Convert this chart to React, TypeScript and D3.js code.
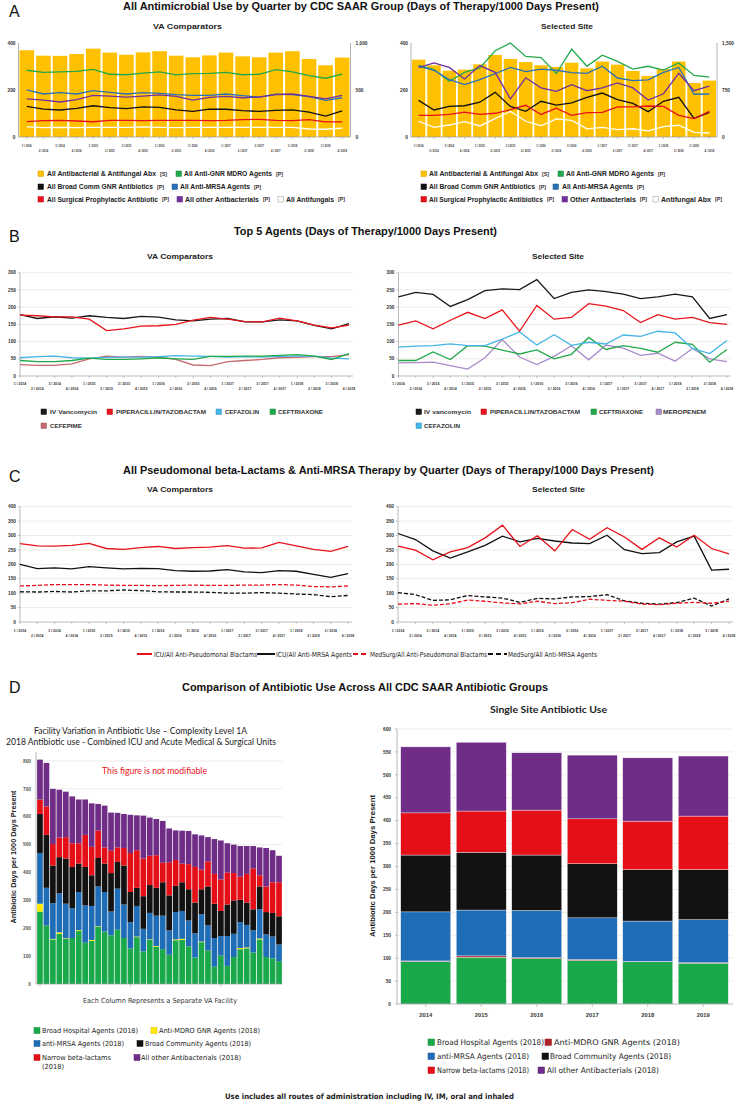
import React from 'react';
import * as d3 from 'd3';

const W = 739;
const H = 1102;

const SANS = "'Liberation Sans', Arial, sans-serif";
const NARROW = "'Liberation Sans Narrow', 'Arial Narrow', 'DejaVu Sans Condensed', sans-serif";
const CAL = "Lato, 'Open Sans', sans-serif";

const quarters = ['1 / 2014', '2 / 2014', '3 / 2014', '4 / 2014', '1 / 2015', '2 / 2015', '3 / 2015', '4 / 2015',
  '1 / 2016', '2 / 2016', '3 / 2016', '4 / 2016', '1 / 2017', '2 / 2017', '3 / 2017', '4 / 2017',
  '1 / 2018', '2 / 2018', '3 / 2018', '4 / 2018'];

// ---- A: all antimicrobial use (bars on secondary axis, lines on primary)
const aVaAbx = [923, 865, 863, 883, 940, 898, 875, 900, 913, 865, 848, 868, 898, 858, 848, 898, 913, 830, 763, 845];
const aVaGnr = [284, 275, 277, 279, 288, 267, 265, 272, 277, 264, 270, 271, 275, 265, 267, 287, 277, 261, 250, 268];
const aVaMrsa = [201, 183, 189, 183, 197, 190, 183, 189, 186, 180, 177, 177, 183, 176, 170, 182, 180, 172, 156, 167];
const aVaOther = [162, 157, 149, 159, 177, 174, 170, 174, 179, 173, 157, 169, 173, 167, 170, 180, 183, 173, 162, 177];
const aVaBroad = [130, 119, 115, 122, 133, 125, 121, 128, 126, 115, 109, 119, 118, 112, 109, 113, 115, 106, 89, 111];
const aVaSurg = [65, 70, 71, 68, 65, 71, 71, 70, 71, 71, 71, 70, 71, 74, 75, 71, 70, 74, 64, 64];
const aVaFungal = [43, 40, 41, 40, 41, 41, 41, 43, 41, 40, 41, 41, 41, 41, 41, 41, 41, 34, 33, 38];

const aSiteAbx = [1234, 1144, 1058, 1076, 1159, 1309, 1245, 1196, 1144, 1118, 1185, 1095, 1204, 1155, 1054, 975, 1084, 1204, 862, 900];
const aSiteGnr = [305, 287, 237, 275, 294, 367, 400, 343, 338, 270, 374, 301, 348, 322, 289, 301, 285, 315, 262, 255];
const aSiteMrsa = [302, 284, 244, 223, 244, 270, 296, 278, 289, 284, 274, 271, 301, 251, 240, 243, 275, 296, 182, 183];
const aSiteOther = [295, 315, 296, 247, 304, 275, 162, 252, 209, 194, 223, 197, 209, 230, 209, 157, 184, 271, 197, 217];
const aSiteBroad = [156, 115, 130, 133, 148, 190, 130, 109, 152, 136, 145, 169, 187, 159, 143, 108, 152, 169, 79, 105];
const aSiteSurg = [92, 92, 96, 106, 96, 101, 116, 135, 96, 123, 92, 104, 105, 128, 128, 132, 130, 92, 78, 109];
const aSiteFungal = [67, 41, 51, 65, 47, 78, 109, 67, 48, 77, 71, 35, 41, 31, 35, 26, 44, 50, 20, 17];

// ---- B: top 5 agents
const bVaVanco = [178, 167, 172, 168, 175, 170, 167, 173, 171, 163, 160, 165, 167, 157, 157, 163, 160, 147, 137, 152];
const bVaPip = [177, 175, 172, 172, 165, 132, 137, 145, 146, 150, 162, 170, 165, 158, 157, 168, 160, 148, 140, 148];
const bVaCefaz = [53, 56, 58, 53, 52, 54, 55, 55, 56, 59, 58, 57, 55, 56, 55, 57, 58, 58, 52, 50];
const bVaCeftri = [45, 42, 42, 45, 52, 48, 48, 50, 53, 50, 48, 57, 57, 58, 58, 60, 62, 58, 48, 65];
const bVaCefep = [33, 31, 31, 35, 50, 58, 55, 57, 55, 48, 32, 30, 42, 45, 48, 53, 54, 56, 56, 62];

const bSiteVanco = [230, 243, 237, 202, 222, 248, 253, 251, 280, 225, 243, 250, 245, 238, 225, 230, 238, 230, 167, 178];
const bSitePip = [148, 160, 137, 162, 185, 167, 192, 130, 205, 165, 170, 210, 203, 190, 155, 178, 165, 170, 155, 150];
const bSiteCeftri = [45, 45, 70, 48, 88, 87, 75, 64, 76, 50, 63, 112, 77, 88, 80, 69, 98, 92, 40, 77];
const bSiteMero = [38, 39, 40, 30, 20, 53, 106, 55, 33, 57, 88, 47, 90, 81, 60, 66, 43, 80, 50, 42];
const bSiteCefaz = [84, 87, 88, 93, 88, 88, 107, 128, 90, 120, 89, 98, 93, 119, 115, 130, 125, 80, 65, 103];

// ---- C: pseudomonal beta-lactams & anti-MRSA
const cVaIcuPseudo = [272, 264, 263, 266, 273, 255, 252, 258, 262, 255, 258, 260, 265, 256, 257, 276, 264, 252, 245, 262];
const cVaIcuMrsa = [200, 185, 188, 184, 192, 188, 184, 186, 185, 178, 176, 177, 182, 174, 171, 178, 176, 165, 155, 168];
const cVaMsPseudo = [125, 127, 130, 130, 130, 128, 127, 127, 126, 127, 128, 127, 127, 128, 128, 130, 128, 123, 122, 125];
const cVaMsMrsa = [105, 104, 106, 104, 108, 108, 111, 109, 105, 104, 104, 103, 100, 100, 102, 100, 97, 95, 88, 92];

const cSiteIcuPseudo = [263, 249, 216, 243, 258, 292, 336, 262, 299, 247, 321, 287, 327, 295, 252, 292, 260, 301, 255, 236];
const cSiteIcuMrsa = [307, 286, 247, 222, 243, 266, 298, 278, 290, 281, 274, 272, 301, 251, 237, 241, 278, 298, 180, 183];
const cSiteMsPseudo = [62, 64, 58, 63, 76, 72, 66, 63, 72, 64, 67, 79, 75, 72, 62, 60, 65, 68, 65, 72];
const cSiteMsMrsa = [102, 95, 75, 77, 92, 87, 83, 68, 82, 80, 87, 88, 95, 73, 65, 62, 67, 83, 55, 80];

// ---- D left: facility variation (38 facilities, segment values)
const dfGreen = [260, 210, 160, 180, 162, 165, 190, 148, 155, 205, 188, 175, 195, 165, 128, 168, 117, 158, 133, 125, 105, 157, 158, 135, 95, 150, 120, 62, 102, 65, 97, 125, 128, 113, 160, 97, 92, 82];
const dfYellow = [28, 0, 2, 5, 2, 0, 3, 0, 3, 2, 0, 0, 0, 0, 0, 2, 0, 2, 3, 0, 0, 3, 4, 0, 0, 2, 0, 0, 0, 0, 0, 4, 3, 0, 3, 0, 0, 0];
const dfBlue = [182, 135, 128, 140, 124, 107, 137, 134, 122, 143, 142, 85, 147, 120, 94, 110, 81, 95, 109, 120, 87, 98, 100, 93, 87, 98, 90, 103, 70, 107, 83, 93, 81, 80, 105, 81, 78, 60];
const dfBlack = [140, 190, 135, 130, 162, 148, 102, 138, 110, 102, 102, 138, 96, 140, 108, 65, 117, 100, 100, 120, 126, 94, 103, 112, 110, 90, 140, 123, 90, 113, 120, 80, 80, 75, 82, 80, 85, 101];
const dfRed = [52, 102, 77, 70, 77, 85, 73, 115, 102, 98, 58, 80, 52, 63, 140, 135, 135, 105, 117, 70, 119, 93, 67, 90, 128, 70, 90, 107, 113, 115, 98, 83, 103, 147, 40, 92, 110, 122];
const dfPurple = [143, 156, 198, 172, 163, 168, 157, 127, 156, 96, 150, 137, 124, 122, 137, 125, 154, 137, 130, 150, 121, 106, 118, 119, 117, 123, 87, 125, 140, 105, 102, 110, 100, 80, 100, 138, 115, 95];

// ---- D right: single site by year
const years = ['2014', '2015', '2016', '2017', '2018', '2019'];
const dsGreen = [93, 102, 99, 95, 92, 89];
const dsMdro = [1, 3, 2, 2, 1, 1];
const dsMrsa = [107, 100, 103, 91, 88, 94];
const dsBroad = [124, 126, 121, 118, 112, 109];
const dsNarrow = [92, 90, 98, 98, 106, 117];
const dsOther = [144, 150, 125, 139, 138, 131];

const GOLD = '#FFC000';
const GREEN = '#22A84C';
const BLACK = '#111111';
const BLUE = '#2A71B8';
const RED = '#E8101A';
const PURPLE = '#7030A0';

const Txt = ({ x, y, s, size = 6, bold = false, len, anchor = 'start', fill = '#222', family = SANS, transform, weight }: any) => (
  <text x={x} y={y} fontSize={size} fontWeight={weight || (bold ? 'bold' : 'normal')} textAnchor={anchor} fill={fill}
    fontFamily={family} textLength={len} lengthAdjust={len ? 'spacingAndGlyphs' : undefined} transform={transform}>{s}</text>
);

const Combo = ({ x0, x1, bars, barMax, rightTicks, lines }: any) => {
  const yTop = 43, yBot = 137;
  const xb = d3.scaleBand<string>().domain(quarters).range([x0, x1]).paddingInner(0.12).paddingOuter(0.06);
  const yL = d3.scaleLinear().domain([0, 400]).range([yBot, yTop]);
  const yR = d3.scaleLinear().domain([0, barMax]).range([yBot, yTop]);
  const cx = (i: number) => (xb(quarters[i]) as number) + xb.bandwidth() / 2;
  const gen = d3.line<number>().x((_, i) => cx(i)).y(v => yL(v));
  return (
    <g>
      {bars.map((v: number, i: number) => (
        <rect key={i} x={xb(quarters[i])} y={yR(v)} width={xb.bandwidth()} height={yBot - yR(v)} fill={GOLD} />
      ))}
      <line x1={x0} x2={x0} y1={yTop} y2={yBot} stroke="#a0a0a0" strokeWidth={0.8} />
      <line x1={x1} x2={x1} y1={yTop} y2={yBot} stroke="#a0a0a0" strokeWidth={0.8} />
      <line x1={x0} x2={x1} y1={yBot} y2={yBot} stroke="#a0a0a0" strokeWidth={0.8} />
      {quarters.map((q, i) => (
        <line key={q} x1={cx(i)} x2={cx(i)} y1={yBot} y2={yBot + 2} stroke="#a0a0a0" strokeWidth={0.6} />
      ))}
      {lines.map((l: any, k: number) => (
        <path key={k} d={gen(l.values) as string} fill="none" stroke={l.color} strokeWidth={1.3} />
      ))}
      {[0, 200, 400].map(t => <Txt key={t} x={x0 - 3} y={yL(t) + 1.7} s={t} size={4.8} bold anchor="end" fill="#333" />)}
      {rightTicks.map((t: number) => <Txt key={t} x={x1 + 5} y={yR(t) + 1.7} s={d3.format(',')(t)} size={4.8} bold fill="#333" />)}
      {quarters.map((q, i) => (
        <Txt key={q} x={cx(i)} y={i % 2 === 0 ? 146.5 : 151.5} s={q} size={3.9} bold anchor="middle" fill="#333" len={9.5} />
      ))}
    </g>
  );
};

const Lines = ({ x0, x1, yTop, yBot, max, series, rows }: any) => {
  const xp = d3.scalePoint<string>().domain(quarters).range([x0, x1]);
  const y = d3.scaleLinear().domain([0, max]).range([yBot, yTop]);
  const ticks = d3.range(0, max + 1, 50);
  const gen = d3.line<number>().x((_, i) => xp(quarters[i]) as number).y(v => y(v));
  return (
    <g>
      {ticks.filter(t => t > 0).map(t => (
        <line key={t} x1={x0} x2={x1 + 4} y1={y(t)} y2={y(t)} stroke="#ece4d6" strokeWidth={0.7} />
      ))}
      <line x1={x0} x2={x0} y1={yTop} y2={yBot} stroke="#a0a0a0" strokeWidth={0.7} />
      <line x1={x0} x2={x1 + 4} y1={yBot} y2={yBot} stroke="#a0a0a0" strokeWidth={0.7} />
      {ticks.map(t => <line key={t} x1={x0 - 2} x2={x0} y1={y(t)} y2={y(t)} stroke="#a0a0a0" strokeWidth={0.6} />)}
      {quarters.map(q => (
        <line key={q} x1={xp(q)} x2={xp(q)} y1={yBot} y2={yBot + 2} stroke="#a0a0a0" strokeWidth={0.6} />
      ))}
      {series.map((s: any, k: number) => (
        <path key={k} d={gen(s.values) as string} fill="none" stroke={s.color} strokeWidth={1.3}
          strokeDasharray={s.dash ? '4 2' : undefined} />
      ))}
      {ticks.map(t => <Txt key={t} x={x0 - 4} y={y(t) + 1.7} s={t} size={4.8} bold anchor="end" fill="#333" />)}
      {quarters.map((q, i) => (
        <Txt key={q} x={xp(q)} y={i % 2 === 0 ? rows[0] : rows[1]} s={q} size={3.9} bold anchor="middle" fill="#333" len={12.5} />
      ))}
    </g>
  );
};

const Sq = ({ x, y, c, s = 5.5, stroke }: any) => (
  <rect x={x} y={y - s + 0.5} width={s} height={s} fill={c} stroke={stroke || d3.color(c)?.darker(0.6).toString()} strokeWidth={0.5} />
);

const LegA = ({ items }: any) => (
  <g>
    {items.map((it: any, k: number) => (
      <g key={k}>
        <Sq x={it.sx} y={it.y} c={it.c} stroke={it.c === '#ffffff' ? '#999' : undefined} />
        <Txt x={it.tx} y={it.y} s={it.label} size={6.3} bold fill="#222" len={it.gx - it.tx - 4} />
        <Txt x={it.gx} y={it.y - 0.3} s={it.tag} size={5} bold fill="#333" len={7} />
      </g>
    ))}
  </g>
);

const LegB = ({ items }: any) => (
  <g>
    {items.map((it: any, k: number) => (
      <g key={k}>
        <Sq x={it.sx} y={it.y} c={it.c} />
        <Txt x={it.tx} y={it.y} s={it.label} size={6.2} bold fill="#333" len={it.len} />
      </g>
    ))}
  </g>
);

const FacilityChart = () => {
  const keys = ['green', 'yellow', 'blue', 'black', 'red', 'purple'];
  const colors: any = { green: '#19A94A', yellow: '#FFEA00', blue: '#1F6DB6', black: '#121212', red: '#E50F18', purple: '#6F2D87' };
  const rows = dfGreen.map((_, i) => ({
    green: dfGreen[i], yellow: dfYellow[i], blue: dfBlue[i], black: dfBlack[i], red: dfRed[i], purple: dfPurple[i],
  }));
  const stack = d3.stack<any>().keys(keys)(rows);
  const x = d3.scaleBand<number>().domain(d3.range(rows.length)).range([37, 282]).paddingInner(0.12).paddingOuter(0.02);
  const y = d3.scaleLinear().domain([0, 800]).range([984, 761]);
  const ticks = d3.range(0, 801, 100);
  return (
    <g>
      {ticks.filter(t => t > 0).map(t => (
        <line key={t} x1={36} x2={282} y1={y(t)} y2={y(t)} stroke="#dedede" strokeWidth={0.6} />
      ))}
      {stack.map(layer => layer.map((d, i) => (
        <rect key={layer.key + i} x={x(i)} y={y(d[1])} width={x.bandwidth()} height={Math.max(0, y(d[0]) - y(d[1]))}
          fill={colors[layer.key]} />
      )))}
      <line x1={36} x2={36} y1={752} y2={984} stroke="#9a9a9a" strokeWidth={0.7} />
      <line x1={36} x2={282} y1={984} y2={984} stroke="#9a9a9a" strokeWidth={0.7} />
      {[0, 14, 28].map(i => (
        <line key={i} x1={(x(i) as number) + x.bandwidth() / 2} x2={(x(i) as number) + x.bandwidth() / 2} y1={984} y2={987}
          stroke="#9a9a9a" strokeWidth={0.6} />
      ))}
      {ticks.map(t => <Txt key={t} x={31} y={y(t) + 1.7} s={t} size={4.8} bold anchor="end" fill="#555" />)}
      <Txt x={0} y={0} s="Antibiotic Days per 1000 Days Present" size={6.3} bold anchor="middle" fill="#222" len={133}
        transform="translate(15.5,857) rotate(-90)" />
      <Txt x={160} y={1003} s="Each Column Represents a Separate VA Facility" size={7} fill="#333" anchor="middle" len={154} family={NARROW} />
    </g>
  );
};

const SiteChart = () => {
  const keys = ['green', 'mdro', 'mrsa', 'broad', 'narrow', 'other'];
  const colors: any = { green: '#19A94A', mdro: '#B3242A', mrsa: '#1F6DB6', broad: '#121212', narrow: '#E50F18', other: '#6F2D87' };
  const rows = years.map((_, i) => ({
    green: dsGreen[i], mdro: dsMdro[i], mrsa: dsMrsa[i], broad: dsBroad[i], narrow: dsNarrow[i], other: dsOther[i],
  }));
  const stack = d3.stack<any>().keys(keys)(rows);
  const x = d3.scaleBand<string>().domain(years).range([398, 731]).paddingInner(0.1).paddingOuter(0.05);
  const y = d3.scaleLinear().domain([0, 600]).range([1004, 729]);
  const ticks = d3.range(0, 601, 50);
  return (
    <g>
      {ticks.filter(t => t > 0).map(t => (
        <line key={t} x1={397} x2={733} y1={y(t)} y2={y(t)} stroke="#ece4d6" strokeWidth={0.7} />
      ))}
      {stack.map(layer => layer.map((d, i) => (
        <rect key={layer.key + i} x={x(years[i])} y={y(d[1])} width={x.bandwidth()} height={Math.max(0, y(d[0]) - y(d[1]))}
          fill={colors[layer.key]} stroke="#f2eef6" strokeWidth={0.4} />
      )))}
      <line x1={397} x2={397} y1={729} y2={1004} stroke="#9a9a9a" strokeWidth={0.7} />
      <line x1={397} x2={733} y1={1004} y2={1004} stroke="#9a9a9a" strokeWidth={0.7} />
      {ticks.map(t => <line key={t} x1={395} x2={397} y1={y(t)} y2={y(t)} stroke="#9a9a9a" strokeWidth={0.6} />)}
      {years.map(yr => (
        <line key={yr} x1={(x(yr) as number) + x.bandwidth() / 2} x2={(x(yr) as number) + x.bandwidth() / 2} y1={1004} y2={1007}
          stroke="#9a9a9a" strokeWidth={0.6} />
      ))}
      {ticks.map(t => <Txt key={t} x={391} y={y(t) + 1.7} s={t} size={4.8} bold anchor="end" fill="#333" />)}
      {years.map(yr => (
        <Txt key={yr} x={(x(yr) as number) + x.bandwidth() / 2} y={1017} s={yr} size={5.8} bold anchor="middle" fill="#333" />
      ))}
      <Txt x={0} y={0} s="Antibiotic Days per 1000 Days Present" size={6.8} bold anchor="middle" fill="#222" len={142}
        transform="translate(375,866) rotate(-90)" />
    </g>
  );
};

export default function App() {
  const legALeft = [
    { y: 176, sx: 38, tx: 47, gx: 160, c: GOLD, label: 'All Antibacterial & Antifungal Abx', tag: '[S]' },
    { y: 176, sx: 176, tx: 184, gx: 276, c: GREEN, label: 'All Anti-GNR MDRO Agents', tag: '[P]' },
    { y: 189, sx: 38, tx: 47, gx: 157, c: BLACK, label: 'All Broad Comm GNR Antibiotics', tag: '[P]' },
    { y: 189, sx: 172, tx: 180, gx: 254, c: BLUE, label: 'All Anti-MRSA Agents', tag: '[P]' },
    { y: 201.5, sx: 38, tx: 47, gx: 162, c: RED, label: 'All Surgical Prophylactic Antibiotic', tag: '[P]' },
    { y: 201.5, sx: 177, tx: 185, gx: 263, c: PURPLE, label: 'All other Antbacterials', tag: '[P]' },
    { y: 201.5, sx: 278, tx: 286, gx: 338, c: '#ffffff', label: 'All Antifungals', tag: '[P]' },
  ];
  const legARight = [
    { y: 176, sx: 421, tx: 429, gx: 542, c: GOLD, label: 'All Antibacterial & Antifungal Abx', tag: '[S]' },
    { y: 176, sx: 558, tx: 566, gx: 658, c: GREEN, label: 'All Anti-GNR MDRO Agents', tag: '[P]' },
    { y: 189, sx: 421, tx: 429, gx: 539, c: BLACK, label: 'All Broad Comm GNR Antibiotics', tag: '[P]' },
    { y: 189, sx: 553, tx: 562, gx: 637, c: BLUE, label: 'All Anti-MRSA Agents', tag: '[P]' },
    { y: 201.5, sx: 421, tx: 429, gx: 547, c: RED, label: 'All Surgical Prophylactic Antibiotics', tag: '[P]' },
    { y: 201.5, sx: 562, tx: 570, gx: 640, c: PURPLE, label: 'Other Antbacterials', tag: '[P]' },
    { y: 201.5, sx: 653, tx: 661, gx: 715, c: '#ffffff', label: 'Antifungal Abx', tag: '[P]' },
  ];
  const VANC = '#1a1a1a', PIP = '#E8141B', CEFAZ = '#45B5E8', CEFTRI = '#21A84A', CEFEP = '#C46A70', MERO = '#A98CCB';
  const legBLeft = [
    { y: 414, sx: 41, tx: 50, len: 47, c: VANC, label: 'IV Vancomycin' },
    { y: 414, sx: 107, tx: 116, len: 90, c: PIP, label: 'PIPERACILLIN/TAZOBACTAM' },
    { y: 414, sx: 216, tx: 225, len: 34, c: CEFAZ, label: 'CEFAZOLIN' },
    { y: 414, sx: 270, tx: 278, len: 45, c: CEFTRI, label: 'CEFTRIAXONE' },
    { y: 428, sx: 41, tx: 50, len: 32, c: CEFEP, label: 'CEFEPIME' },
  ];
  const legBRight = [
    { y: 414, sx: 416, tx: 424, len: 47, c: VANC, label: 'IV vancomycin' },
    { y: 414, sx: 481, tx: 490, len: 90, c: PIP, label: 'PIPERACILLIN/TAZOBACTAM' },
    { y: 414, sx: 591, tx: 599, len: 44, c: CEFTRI, label: 'CEFTRIAXONE' },
    { y: 414, sx: 656, tx: 663, len: 43, c: MERO, label: 'MEROPENEM' },
    { y: 428, sx: 416, tx: 424, len: 36, c: CEFAZ, label: 'CEFAZOLIN' },
  ];
  const DG = '#19A94A', DY = '#FFEA00', DB = '#1F6DB6', DK = '#121212', DR = '#E50F18', DP = '#6F2D87', DDR = '#B3242A';
  const legDLeft = [
    { y: 1033, sx: 34, tx: 42, len: 96, c: DG, label: 'Broad Hospital Agents (2018)' },
    { y: 1033, sx: 151, tx: 159, len: 101, c: DY, label: 'Anti-MDRO GNR Agents (2018)' },
    { y: 1046, sx: 34, tx: 42, len: 82, c: DB, label: 'anti-MRSA Agents (2018)' },
    { y: 1046, sx: 137, tx: 145, len: 106, c: DK, label: 'Broad Community Agents (2018)' },
    { y: 1060, sx: 34, tx: 42, len: 69, c: DR, label: 'Narrow beta-lactams' },
    { y: 1060, sx: 134, tx: 141, len: 100, c: DP, label: 'All other Antibacterials (2018)' },
  ];
  const legDRight = [
    { y: 1045, sx: 428, tx: 437, len: 107, c: DG, label: 'Broad Hospital Agents (2018)' },
    { y: 1045, sx: 545, tx: 554, len: 126, c: DDR, label: 'Anti-MDRO GNR Agents (2018)' },
    { y: 1059, sx: 428, tx: 437, len: 92, c: DB, label: 'anti-MRSA Agents (2018)' },
    { y: 1059, sx: 542, tx: 550, len: 121, c: DK, label: 'Broad Community Agents (2018)' },
    { y: 1073, sx: 428, tx: 437, len: 92, c: DR, label: 'Narrow beta-lactams (2018)' },
    { y: 1073, sx: 538, tx: 547, len: 112, c: DP, label: 'All other Antibacterials (2018)' },
  ];

  return (
    <svg width={W} height={H} style={{ position: 'absolute', left: 0, top: 0, background: '#fff' }}>
      <defs>
        <clipPath id="leftHalf"><rect x={0} y={0} width={369} height={H} /></clipPath>
      </defs>
      <rect width={W} height={H} fill="#fff" />
      {/* panel letters */}
      {[['A', 17], ['B', 241.5], ['C', 482], ['D', 693]].map(([l, yy]) => (
        <Txt key={l as string} x={9} y={yy} s={l} size={16} fill="#111" />
      ))}

      {/* A */}
      <Txt x={123} y={10} s="All Antimicrobial Use by Quarter by CDC SAAR Group (Days of Therapy/1000 Days Present)" size={10.5} bold len={476} fill="#111" />
      <Txt x={153} y={29} s="VA Comparators" size={8} bold len={69} fill="#222" />
      <Txt x={541} y={29} s="Selected Site" size={8} bold len={52} fill="#222" />
      <g clipPath="url(#leftHalf)">
        <Combo x0={18.5} x1={350.5} bars={aVaAbx} barMax={1000} rightTicks={[0, 500, 1000]}
          lines={[
            { values: aVaGnr, color: GREEN }, { values: aVaMrsa, color: BLUE }, { values: aVaOther, color: PURPLE },
            { values: aVaBroad, color: BLACK }, { values: aVaSurg, color: RED }, { values: aVaFungal, color: '#ffffff' },
          ]} />
      </g>
      <Combo x0={411} x1={717} bars={aSiteAbx} barMax={1500} rightTicks={[0, 750, 1500]}
        lines={[
          { values: aSiteGnr, color: GREEN }, { values: aSiteMrsa, color: BLUE }, { values: aSiteOther, color: PURPLE },
          { values: aSiteBroad, color: BLACK }, { values: aSiteSurg, color: RED }, { values: aSiteFungal, color: '#ffffff' },
        ]} />
      <LegA items={legALeft} />
      <LegA items={legARight} />

      {/* B */}
      <Txt x={234} y={234.5} s="Top 5 Agents (Days of Therapy/1000 Days Present)" size={10.5} bold len={263} fill="#111" />
      <Txt x={147} y={259} s="VA Comparators" size={8} bold len={66} fill="#222" />
      <Txt x={532} y={259} s="Selected Site" size={8} bold len={52} fill="#222" />
      <Lines x0={20} x1={349} yTop={272.7} yBot={376} max={300} rows={[385, 389.5]}
        series={[
          { values: bVaCefep, color: CEFEP }, { values: bVaCefaz, color: CEFAZ }, { values: bVaCeftri, color: CEFTRI },
          { values: bVaVanco, color: VANC }, { values: bVaPip, color: PIP },
        ]} />
      <Lines x0={398.5} x1={727} yTop={272.7} yBot={376} max={300} rows={[385, 389.5]}
        series={[
          { values: bSiteMero, color: MERO }, { values: bSiteCeftri, color: CEFTRI }, { values: bSiteCefaz, color: CEFAZ },
          { values: bSiteVanco, color: VANC }, { values: bSitePip, color: PIP },
        ]} />
      <LegB items={legBLeft} />
      <LegB items={legBRight} />

      {/* C */}
      <Txt x={123} y={474} s="All Pseudomonal beta-Lactams & Anti-MRSA Therapy by Quarter (Days of Therapy/1000 Days Present)" size={10.5} bold len={531} fill="#111" />
      <Txt x={147} y={492} s="VA Comparators" size={8} bold len={66} fill="#222" />
      <Txt x={532} y={492} s="Selected Site" size={8} bold len={53} fill="#222" />
      <Lines x0={20} x1={348} yTop={506.7} yBot={622} max={400} rows={[631.5, 637]}
        series={[
          { values: cVaMsMrsa, color: BLACK, dash: true }, { values: cVaMsPseudo, color: RED, dash: true },
          { values: cVaIcuMrsa, color: BLACK }, { values: cVaIcuPseudo, color: RED },
        ]} />
      <Lines x0={398} x1={729} yTop={506.7} yBot={622} max={400} rows={[631.5, 637]}
        series={[
          { values: cSiteMsMrsa, color: BLACK, dash: true }, { values: cSiteMsPseudo, color: RED, dash: true },
          { values: cSiteIcuMrsa, color: BLACK }, { values: cSiteIcuPseudo, color: RED },
        ]} />
      <g>
        <line x1={137} x2={152} y1={654} y2={654} stroke={RED} strokeWidth={2} />
        <Txt x={154} y={656.5} s="ICU/All Anti-Pseudomonal Blactams" size={7} len={103} family={NARROW} fill="#222" />
        <line x1={257} x2={275} y1={654} y2={654} stroke={BLACK} strokeWidth={2} />
        <Txt x={276} y={656.5} s="ICU/All Anti-MRSA Agents" size={7} len={76} family={NARROW} fill="#222" />
        <line x1={353} x2={369} y1={654} y2={654} stroke={RED} strokeWidth={2} strokeDasharray="5 3" />
        <Txt x={370} y={656.5} s="MedSurg/All Anti-Pseudomonal Blactams" size={7} len={117} family={NARROW} fill="#222" />
        <line x1={488} x2={507} y1={654} y2={654} stroke={BLACK} strokeWidth={2} strokeDasharray="5 3" />
        <Txt x={508} y={656.5} s="MedSurg/All Anti-MRSA Agents" size={7} len={89} family={NARROW} fill="#222" />
      </g>

      {/* D */}
      <Txt x={182} y={691} s="Comparison of Antibiotic Use Across All CDC SAAR Antibiotic Groups" size={10.5} bold len={366} fill="#111" />
      <Txt x={34} y={734} s="Facility Variation in Antibiotic Use – Complexity Level 1A" size={8.5} len={213} family={CAL} fill="#222" />
      <Txt x={6} y={745} s="2018 Antibiotic use  - Combined ICU and Acute Medical & Surgical Units" size={8.5} len={270} family={CAL} fill="#222" />
      <FacilityChart />
      <Txt x={102} y={774} s="This figure is not modifiable" size={8.5} len={105} family={CAL} fill="#E8101A" />
      <Txt x={490} y={713} s="Single Site Antibiotic Use" size={8.5} bold len={117} family={CAL} fill="#222" />
      <SiteChart />
      {legDLeft.map((it, k) => (
        <g key={k}>
          <Sq x={it.sx} y={it.y} c={it.c} s={6} />
          <Txt x={it.tx} y={it.y} s={it.label} size={7} len={it.len} family={NARROW} fill="#222" />
        </g>
      ))}
      <Txt x={42} y={1069} s="(2018)" size={7} len={22} family={NARROW} fill="#222" />
      {legDRight.map((it, k) => (
        <g key={k}>
          <Sq x={it.sx} y={it.y} c={it.c} s={6.5} />
          <Txt x={it.tx} y={it.y} s={it.label} size={7.8} len={it.len} family={NARROW} fill="#222" />
        </g>
      ))}
      <Txt x={225} y={1099} s="Use includes all routes of administration including IV, IM, oral and inhaled" size={7.5} bold len={289} family={NARROW} fill="#222" />
    </svg>
  );
}
